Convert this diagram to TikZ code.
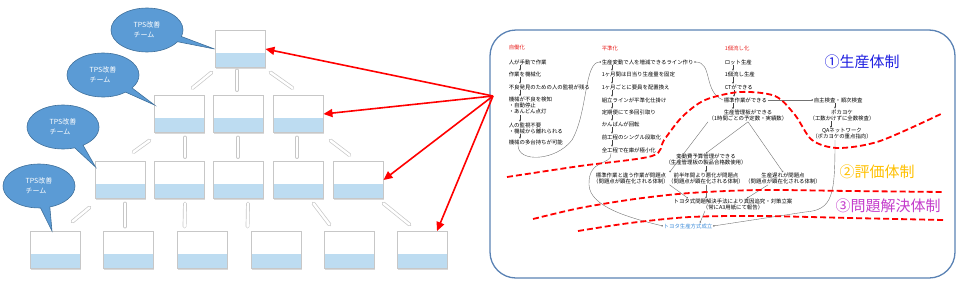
\documentclass[tikz,border=0pt]{standalone}
\usepackage{fontspec}
\setmainfont{Noto Sans CJK JP}
\usetikzlibrary{positioning,arrows.meta,shapes.callouts,shadows,calc}
\definecolor{stripblue}{HTML}{BDDCF1}
\definecolor{bubblefill}{HTML}{5B9BD5}
\definecolor{bubbleline}{HTML}{41719C}
\definecolor{panelline}{HTML}{5A82B4}
\definecolor{headred}{HTML}{E8201E}
\definecolor{labblue}{HTML}{1F1FE0}
\definecolor{labgold}{HTML}{FFC000}
\definecolor{labviolet}{HTML}{C43CCB}
\definecolor{tpsblue}{HTML}{3A8AD8}
\tikzset{
  unit/.style={draw=black!22, line width=0.9pt, fill=white, minimum width=50pt, minimum height=37pt, inner sep=0pt,
    drop shadow={shadow xshift=1.2pt, shadow yshift=-1.2pt, opacity=0.3},
    path picture={\fill[stripblue] ([shift={(0.5pt,0.5pt)}]path picture bounding box.south west) rectangle ([shift={(-0.5pt,15pt)}]path picture bounding box.south east);}},
  team/.style={ellipse callout, fill=bubblefill, draw=bubbleline, line width=0.6pt, minimum width=72pt, minimum height=44pt,
    inner sep=0pt, text=white, align=left, font=\fontsize{7}{10}\selectfont},
  pipe/.style={draw=black!22, double=white, double distance=2.4pt, line width=0.7pt, line cap=round},
  redarrow/.style={draw=red, line width=1.6pt, -{Triangle[length=9pt,width=8pt]}},
  txt/.style={inner sep=0.6pt, font=\fontsize{5.4}{6}\selectfont, text=black},
  head/.style={txt, text=headred},
  dn/.style={draw=black!75, line width=0.35pt, -{Stealth[length=2pt,width=1.8pt]}},
  link/.style={draw=black!55, line width=0.4pt, -{Circle[length=1.6pt]}},
  sepline/.style={draw=red, line width=1.8pt, dash pattern=on 6pt off 3pt},
  tag/.style={font=\fontsize{15}{15}\selectfont}
}
\begin{document}
\begin{tikzpicture}[x=1pt,y=-1pt]
    \useasboundingbox (0,0) rectangle (960,284);
    % pyramid of improvement teams
    \node[unit] (u1) at (240,49) {};
    \foreach \n/\x in {21/179,22/238,23/298} \node[unit] (u\n) at (\x,114) {};
    \foreach \n/\x in {31/120,32/179,33/238,34/298,35/358} \node[unit] (u\n) at (\x,180) {};
    \foreach \n/\x in {41/55,42/128,43/202,44/276,45/349,46/422} \node[unit] (u\n) at (\x,250) {};
    \draw[pipe] ([shift={(-12,-7)}]u21.north east) -- ([shift={(-3,4.5)}]u1.south west);
    \draw[pipe] ([shift={(-1,-5)}]u22.north) -- ([shift={(-3,2.5)}]u1.south);
    \draw[pipe] ([shift={(20,-7)}]u23.north west) -- ([shift={(5,4.5)}]u1.south east);
    \draw[pipe] ([shift={(-12,-9)}]u31.north east) -- ([shift={(-4,7.5)}]u21.south west);
    \draw[pipe] ([shift={(6,-4)}]u32.north) -- ([shift={(6,4.5)}]u21.south);
    \draw[pipe] ([shift={(0,-4)}]u33.north) -- ([shift={(0,4.5)}]u22.south);
    \draw[pipe] ([shift={(-1,-4)}]u34.north) -- ([shift={(-1,4.5)}]u23.south);
    \draw[pipe] ([shift={(17,-6)}]u35.north west) -- ([shift={(7,7.5)}]u23.south east);
    \draw[pipe] ([shift={(-8,-9.5)}]u41.north east) -- ([shift={(-5,8.5)}]u31.south west);
    \draw[pipe] ([shift={(-3,-4.5)}]u42.north) -- ([shift={(5,4.5)}]u31.south);
    \draw[pipe] ([shift={(8,-4.5)}]u43.north west) -- ([shift={(6,4.5)}]u32.south);
    \draw[pipe] ([shift={(-3,-4.5)}]u44.north west) -- ([shift={(10,4.5)}]u33.south);
    \draw[pipe] ([shift={(6,-6.5)}]u45.north west) -- ([shift={(-10,4.5)}]u34.south east);
    \draw[pipe] ([shift={(13,-6.5)}]u46.north west) -- ([shift={(0,4.5)}]u35.south east);
    \node[team, callout absolute pointer={(u1.west)}] (tm1) at (147,30) {TPS改善\\チーム};
    \node[team, callout absolute pointer={([shift={(1,10)}]u21.north west)}] (tm2) at (103,75) {TPS改善\\チーム};
    \node[team, callout absolute pointer={([shift={(1,6)}]u31.north west)}] (tm3) at (63,127) {TPS改善\\チーム};
    \node[team, callout absolute pointer={([shift={(-3,0)}]u41.north)}] (tm4) at (39,186) {TPS改善\\チーム};
    % panel
    \draw[panelline, line width=1.3pt, rounded corners=26pt] (490,30) rectangle (955,278);
    \coordinate (hub) at (493,96);
    \draw[redarrow] (hub) -- (u1.east);
    \draw[redarrow] (hub) -- (u23.east);
    \draw[redarrow] (hub) -- (u35.east);
    \draw[redarrow] (hub) -- ([xshift=15pt]u46.north);
    % column 1
    \node[head, anchor=west] (jd0) at (508,47) {自働化};
    \node[txt, anchor=west] (jd1) at (508,62) {人が手動で作業};
    \node[txt, anchor=west] (jd2) at (508,74) {作業を機械化};
    \node[txt, anchor=west] (jd3) at (508,87) {不良発見のための人の監視が残る};
    \node[txt, anchor=west, align=left] (jd4) at (508,105.5) {機械が不良を検知\\・自動停止\\・あんどん点灯};
    \node[txt, anchor=west, align=left] (jd5) at (508,128) {人の監視不要\\・機械から離れられる};
    \node[txt, anchor=west] (jd6) at (508,142) {機械の多台持ちが可能};
    % column 2
    \node[head, anchor=west] (hj0) at (601,48) {平準化};
    \node[txt, anchor=west] (hj1) at (601,62) {生産変動で人を増減できるライン作り};
    \node[txt, anchor=west] (hj2) at (601,74) {1ヶ月間は日当り生産量を固定};
    \node[txt, anchor=west] (hj3) at (601,87) {1ヶ月ごとに要員を配置換え};
    \node[txt, anchor=west] (hj4) at (601,100) {組立ラインが平準化仕掛け};
    \node[txt, anchor=west] (hj5) at (601,112) {定期便にて多回引取り};
    \node[txt, anchor=west] (hj6) at (601,124) {かんばんが回転};
    \node[txt, anchor=west] (hj7) at (601,137) {前工程のシングル段取化};
    \node[txt, anchor=west] (hj8) at (601,150) {全工程で在庫が極小化};
    % column 3
    \node[head, anchor=west] (ik0) at (724,48) {1個流し化};
    \node[txt, anchor=west] (ik1) at (724,62) {ロット生産};
    \node[txt, anchor=west] (ik2) at (724,74) {1個流し生産};
    \node[txt, anchor=west] (ik3) at (724,87) {CTができる};
    \node[txt, anchor=west] (ik4) at (723,100) {標準作業ができる};
    \node[txt, align=center] (ik5) at (748,115.5) {生産管理板ができる\\（1時間ごとの予定数・実績数）};
    % column 4
    \node[txt, anchor=west] (qc1) at (813,100) {自主検査・順次検査};
    \node[txt, align=center] (qc2) at (842,115) {ポカヨケ\\（工数かけずに全数検査）};
    \node[txt, align=center] (qc3) at (842,134) {QAネットワーク\\（ポカヨケの重点指向）};
    % lower part
    \node[txt, align=center] (hy1) at (706,159.5) {変動費予算管理ができる\\（生産管理板の製品合格数使用）};
    \node[txt, align=center] (zh) at (706,178.5) {前半年間より悪化が問題点\\（問題点が顕在化される体制）};
    \node[txt, align=center] (hs) at (631,178.5) {標準作業と違う作業が問題点\\（問題点が顕在化される体制）};
    \node[txt, align=center] (ok) at (783,178.5) {生産遅れが問題点\\（問題点が顕在化される体制）};
    \node[txt, align=center] (mk) at (733,204.5) {トヨタ式問題解決手法により真因追究・対策立案\\（常にA3用紙にて報告）};
    \node[txt, text=tpsblue] (tps) at (688,226) {トヨタ生産方式成立};
    \foreach \p/\q/\d in {jd1/jd2/12,jd2/jd3/12,jd3/jd4/12,jd4/jd5/12,jd5/jd6/12,
        hj1/hj2/11,hj2/hj3/11,hj3/hj4/11,hj4/hj5/11,hj5/hj6/11,hj6/hj7/11,hj7/hj8/11,
        ik1/ik2/9,ik2/ik3/9,ik3/ik4/10,ik4/ik5/10,qc1/qc2/22,qc2/qc3/22}
        \draw[dn] ([xshift=\d pt]\p.south west) -- ([xshift=\d pt]\p.south west |- \q.north);
    \draw[dn] (hy1.south) -- (hy1.south |- zh.north);
    \draw[link] ([xshift=10pt]jd6.south west) .. controls (518,163) and (556,161) .. (572,140) .. controls (588,112) and (584,62) .. (hj1.west);
    \draw[link] (ik4.west) .. controls (703,92) and (713,62) .. (hj1.east);
    \draw[link] ([xshift=10pt]hj8.south west) .. controls (612,166) and (588,158) .. (589,185) .. controls (590,207) and (630,218) .. (tps.west);
    \draw[link] ([xshift=-7pt]qc3.south) .. controls (835,195) and (833,210) .. (805,212) -- (tps.east);
    \draw[link] (ik4.east) -- (qc1.west);
    \draw[link] (ik5.south) -- (hy1.north);
    \draw[link] (ik5.south) -- (ok.north);
    \draw[link] (ik5.south west) -- (hs.north east);
    \draw[link] (hs.south east) -- ([xshift=15pt]mk.north west);
    \draw[link] (zh.south) -- (zh.south |- mk.north);
    \draw[link] ([xshift=-15pt]ok.south) -- ([xshift=14pt]mk.north);
    \draw[link] ([xshift=-28pt]mk.south) -- ([xshift=12pt]tps.north);
    % boundaries between the three systems
    \draw[sepline] plot[smooth, tension=0.5] coordinates {(507,177) (580,166) (652,156) (664,140) (682,117) (705,100) (740,92) (775,96) (795,115) (812,140) (838,148) (880,141) (943,113)};
    \draw[sepline] plot[smooth, tension=0.5] coordinates {(533,219) (580,208) (635,199) (690,193) (760,190) (850,191) (943,192)};
    \draw[sepline] plot[smooth, tension=0.5] coordinates {(578,231) (630,223) (690,217) (760,216) (850,218) (943,220)};
    \node[tag, text=labblue] (t1) at (862,62) {①生産体制};
    \node[tag, text=labgold] (t2) at (877,172) {②評価体制};
    \node[tag, text=labviolet] (t3) at (888,206) {③問題解決体制};
\end{tikzpicture}
\end{document}
